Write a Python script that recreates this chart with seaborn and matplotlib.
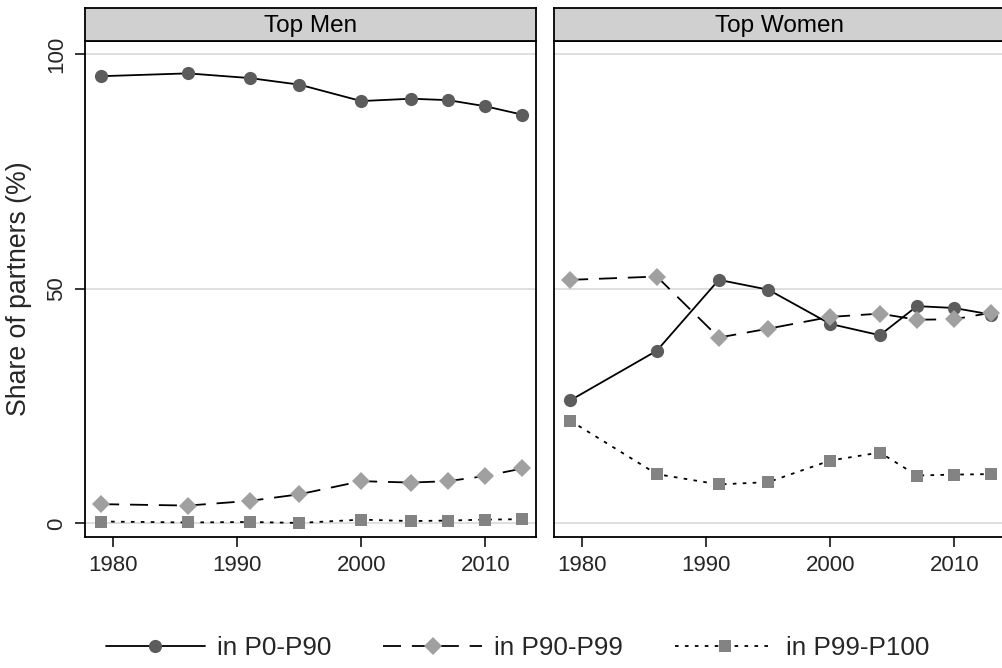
import matplotlib
matplotlib.use("Agg")
import matplotlib.pyplot as plt
import seaborn as sns
import pandas as pd
from matplotlib.lines import Line2D

years = [1979, 1986, 1991, 1995, 2000, 2004, 2007, 2010, 2013]
men_p0_90 = [95.3, 95.9, 94.9, 93.5, 90.0, 90.5, 90.2, 88.9, 87.1]
men_p90_99 = [4.1, 3.8, 4.8, 6.2, 9.0, 8.7, 9.0, 10.1, 11.7]
men_p99_100 = [0.4, 0.2, 0.3, 0.1, 0.8, 0.5, 0.6, 0.8, 0.9]
women_p0_90 = [26.2, 36.8, 51.9, 49.8, 42.5, 40.1, 46.3, 45.9, 44.5]
women_p90_99 = [51.9, 52.6, 39.6, 41.5, 44.0, 44.7, 43.4, 43.5, 44.9]
women_p99_100 = [21.9, 10.5, 8.3, 8.8, 13.4, 15.1, 10.2, 10.4, 10.5]

panels = ["Top Men", "Top Women"]
series_labels = ["in P0-P90", "in P90-P99", "in P99-P100"]
x_ticks = [1980, 1990, 2000, 2010]
y_ticks = [0, 50, 100]

sns.set_theme(style="white")
plt.rcParams['font.family'] = ['Liberation Sans', 'DejaVu Sans']

W, H = 1003, 668
fig = plt.figure(figsize=(W / 100, H / 100), dpi=100)

styles = [
    dict(linestyle="-", marker="o", markerfacecolor="#5c5c5c", markersize=9.5),
    dict(linestyle=(0, (10, 6)), marker="D", markerfacecolor="#a0a0a0", markersize=9.5),
    dict(linestyle=(0, (2, 3.5)), marker="s", markerfacecolor="#838383", markersize=9),
]

data = {
    "Top Men": [men_p0_90, men_p90_99, men_p99_100],
    "Top Women": [women_p0_90, women_p90_99, women_p99_100],
}

ax_lefts = [85, 554]
ax_w = 451
ax_top, ax_bot = 41, 537
strip_top = 8

for i, panel in enumerate(panels):
    l = ax_lefts[i]
    ax = fig.add_axes([l / W, (H - ax_bot) / H, ax_w / W, (ax_bot - ax_top) / H])
    for yv in y_ticks:
        ax.axhline(yv, color="#dcdcdc", lw=1.3, zorder=0)
    for j, vals in enumerate(data[panel]):
        df = pd.DataFrame({"year": years, "share": vals})
        sns.lineplot(data=df, x="year", y="share", ax=ax, color="black", lw=1.3,
                     markeredgewidth=0, zorder=3, **styles[j])
    ax.set_xlim(1977.7, 2014.1)
    ax.set_ylim(-2.9, 102.8)
    ax.set_xticks(x_ticks)
    ax.set_xticklabels([str(t) for t in x_ticks], fontsize=16)
    ax.set_xlabel("")
    if i == 0:
        ax.set_yticks(y_ticks)
        ax.set_yticklabels([str(t) for t in y_ticks], fontsize=16, rotation=90, va="center")
        ax.set_ylabel("Share of partners (%)", fontsize=19.2, labelpad=10)
    else:
        ax.set_yticks([])
        ax.set_ylabel("")
    ax.tick_params(axis="both", direction="out", length=7, width=1.1, color="black",
                   left=(i == 0), bottom=True, pad=6)
    for s in ax.spines.values():
        s.set_color("black")
        s.set_linewidth(1.3)
        s.set_visible(True)
    ax.grid(False)

    sax = fig.add_axes([l / W, (H - ax_top) / H, ax_w / W, (ax_top - strip_top) / H])
    sax.set_facecolor("#d0d0d0")
    sax.set_xticks([]); sax.set_yticks([])
    for s in sax.spines.values():
        s.set_color("black")
        s.set_linewidth(1.3)
    sax.text(0.5, 0.45, panel, transform=sax.transAxes, ha="center", va="center",
             fontsize=17.5, color="black")

handles = [Line2D([0], [0], color="black", lw=1.3, markeredgewidth=0, **st) for st in styles]
fig.legend(handles, series_labels, loc="center", bbox_to_anchor=(0.516, (H - 648) / H),
           ncol=3, frameon=False, fontsize=18.8, handlelength=3.8, handletextpad=0.45,
           columnspacing=2.0, numpoints=1)

fig.savefig("out.png", dpi=100, facecolor="white")
